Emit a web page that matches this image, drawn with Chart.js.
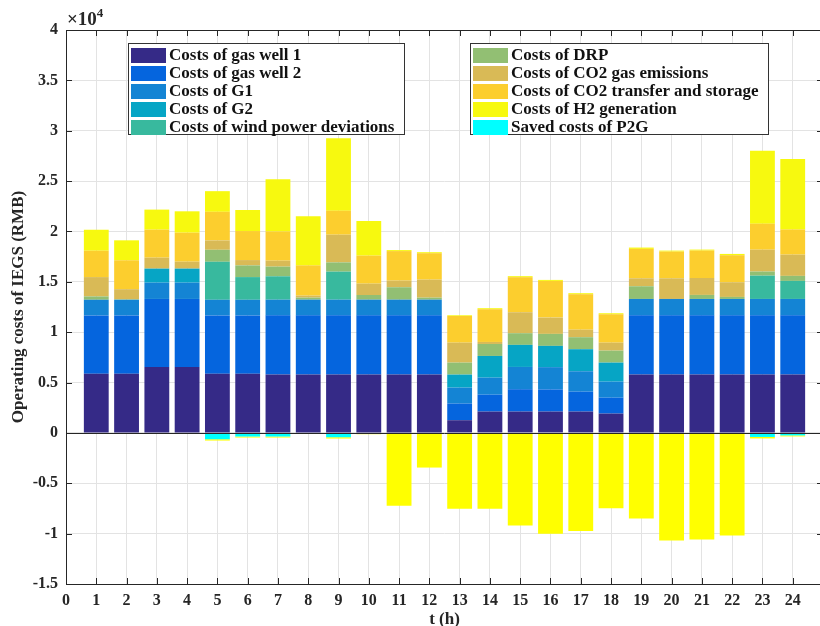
<!DOCTYPE html>
<html>
<head>
<meta charset="utf-8">
<script src="https://cdn.jsdelivr.net/npm/chart.js@4.4.1/dist/chart.umd.min.js"></script>
<style>
  html, body { margin: 0; padding: 0; background: #fff; overflow: hidden; }
  #wrap { position: relative; width: 830px; height: 626px; }
  #exp { position: absolute; left: 67px; top: 6px; font: bold 19px 'Liberation Serif', serif; color: #262626; }
  #exp sup { font-size: 13px; position: relative; top: -1px; }
  .lg { position: absolute; top: 43px; height: 92px; background: #fff; border: 1.5px solid #333; box-sizing: border-box; padding: 2px 0 0 2px; }
  .lg div { height: 18px; display: flex; align-items: center; font: bold 17px 'Liberation Serif', serif; color: #111; white-space: nowrap; }
  .lg span { display: inline-block; width: 35px; height: 15px; margin-right: 3px; }
</style>
</head>
<body>
<div id="wrap">
  <canvas id="c" width="830" height="626"></canvas>
  <div id="exp">&times;10<sup>4</sup></div>
  <div class="lg" id="lgA" style="left:128px; width:277px;"></div>
  <div class="lg" id="lgB" style="left:470px; width:299px;"></div>
</div>
<script>
// hours on the x axis
const hours = [1,2,3,4,5,6,7,8,9,10,11,12,13,14,15,16,17,18,19,20,21,22,23,24];

// cost components (RMB)
const gasWell1   = [5880,5880,6550,6550,5880,5880,5800,5800,5800,5800,5800,5800,1260,2120,2120,2120,2120,1920,5800,5800,5800,5800,5800,5800];
const gasWell2   = [5780,5780,6750,6750,5780,5780,5870,5870,5870,5870,5870,5870,1650,1680,2220,2200,1980,1580,5870,5870,5870,5870,5870,5870];
const costG1     = [1560,1560,1620,1620,1560,1560,1560,1560,1560,1560,1560,1560,1590,1690,2210,2210,2020,1590,1630,1630,1630,1630,1630,1630];
const costG2     = [0,0,1390,1390,0,0,0,0,0,0,0,0,1290,2150,2190,2110,2190,1890,0,0,0,0,0,0];
const windDev    = [0,0,0,0,3770,2250,2320,0,2780,0,0,0,0,0,0,0,0,0,0,0,0,0,2310,1790];
const costDRP    = [330,50,0,0,1190,1160,960,200,920,460,1230,200,1190,1190,1160,1190,1190,1190,1260,0,400,200,410,500];
const co2Emis    = [1920,1000,1090,690,930,530,590,200,2750,1130,660,1790,1980,200,2080,1620,750,790,790,2050,1680,1460,2170,2110];
const co2Trans   = [2620,2870,2780,2880,2840,2880,2900,3000,2380,2780,2930,2620,2650,3250,3480,3640,3520,2820,2920,2650,2720,2680,2580,2500];
const h2Gen      = [2080,1980,1990,2120,2050,2090,5180,4870,7190,3440,100,100,70,100,100,100,100,100,130,100,100,130,7230,7000];
const savedP2G   = [0,0,0,0,-630,-360,-360,0,-430,-50,0,0,0,0,0,0,-30,0,0,0,0,-50,-400,-250];
const h2Neg      = [-50,-50,-50,-50,-130,-100,-100,-50,-130,-80,-7220,-3440,-7520,-7520,-9200,-10000,-9700,-7470,-8500,-10690,-10580,-10140,-150,-100];

const yTicks = [-15000,-10000,-5000,0,5000,10000,15000,20000,25000,30000,35000,40000];

const series = [
  ['Costs of gas well 1', gasWell1, '#352a87'],
  ['Costs of gas well 2', gasWell2, '#0565de'],
  ['Costs of G1', costG1, '#1484d4'],
  ['Costs of G2', costG2, '#06a5c5'],
  ['Costs of wind power deviations', windDev, '#38b99e'],
  ['Costs of DRP', costDRP, '#92bf73'],
  ['Costs of CO2 gas emissions', co2Emis, '#d9ba56'],
  ['Costs of CO2 transfer and storage', co2Trans, '#fcce2e'],
  ['Costs of H2 generation', h2Gen, '#f7f90f'],
  ['Saved costs of P2G', savedP2G, '#00ffff'],
  ['', h2Neg, '#ffff00']
];

const FONT = "'Liberation Serif', 'Times New Roman', serif";
const INK = '#262626';

// box round the axes, zero baseline and inward ticks
const frame = {
  id: 'frame',
  afterDatasetsDraw(chart) {
    const {ctx, chartArea: a, scales: {x, y}} = chart;
    ctx.save();
    ctx.strokeStyle = INK;
    ctx.lineWidth = 1;
    const line = (x1, y1, x2, y2) => { ctx.beginPath(); ctx.moveTo(x1, y1); ctx.lineTo(x2, y2); ctx.stroke(); };
    const y0 = Math.round(y.getPixelForValue(0)) + 0.5;
    line(a.left, y0, a.right, y0);
    ctx.strokeRect(Math.round(a.left) + 0.5, Math.round(a.top) + 0.5, a.width, a.height);
    x.ticks.forEach(t => {
      const px = Math.round(x.getPixelForValue(t.value)) + 0.5;
      line(px, a.bottom, px, a.bottom - 6);
      line(px, a.top, px, a.top + 6);
    });
    y.ticks.forEach(t => {
      const py = Math.round(y.getPixelForValue(t.value)) + 0.5;
      line(a.left, py, a.left + 6, py);
      line(a.right, py, a.right - 6, py);
    });
    ctx.restore();
  }
};

const chart = new Chart(document.getElementById('c'), {
  type: 'bar',
  data: {
    labels: hours,
    datasets: series.map(s => ({
      label: s[0],
      data: s[1],
      backgroundColor: s[2],
      borderWidth: 0,
      barPercentage: 0.82,
      categoryPercentage: 1
    }))
  },
  options: {
    responsive: false,
    animation: false,
    layout: { padding: { top: 30, right: 3, left: 0, bottom: 0 } },
    plugins: { legend: { display: false }, tooltip: { enabled: false } },
    scales: {
      x: {
        type: 'linear',
        stacked: true,
        min: 0, max: 25,
        offset: false,
        grid: { color: '#e3e3e3', offset: false, drawTicks: false },
        border: { display: false },
        ticks: {
          stepSize: 1,
          padding: 7,
          color: INK,
          font: { family: FONT, size: 16, weight: 'bold' },
          callback: v => (v <= 24 ? v : '')
        },
        title: { display: true, text: 't (h)', color: INK, font: { family: FONT, size: 17, weight: 'bold', lineHeight: 0.8 }, padding: 0 },
        afterFit: s => { s.height = 42; }
      },
      y: {
        stacked: true,
        min: -15000, max: 40000,
        grid: { color: '#e3e3e3', drawTicks: false },
        border: { display: false },
        afterBuildTicks: s => { s.ticks = yTicks.map(v => ({ value: v })); },
        ticks: {
          padding: 8,
          color: INK,
          font: { family: FONT, size: 16, weight: 'bold' },
          callback: v => String(v / 10000)
        },
        title: { display: true, text: 'Operating costs of IEGS (RMB)', color: INK, font: { family: FONT, size: 17, weight: 'bold' }, padding: { top: 8, bottom: 0 } },
        afterFit: s => { s.width = 66; }
      }
    }
  },
  plugins: [frame]
});

// legend in two boxes, built from the datasets
const named = chart.data.datasets.filter(d => d.label);
function fillLegend(id, list) {
  const box = document.getElementById(id);
  list.forEach(d => {
    const row = document.createElement('div');
    row.innerHTML = '<span style="background:' + d.backgroundColor + '"></span>' + d.label;
    box.appendChild(row);
  });
}
fillLegend('lgA', named.slice(0, 5));
fillLegend('lgB', named.slice(5, 10));
</script>
</body>
</html>
